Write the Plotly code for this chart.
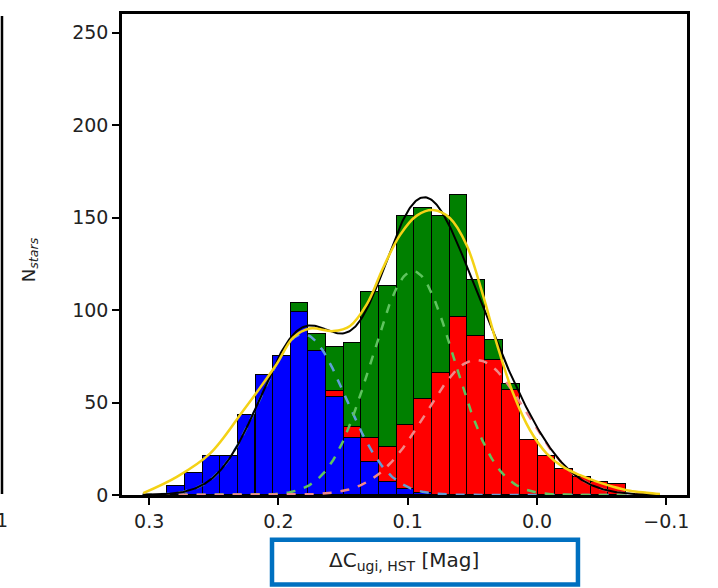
import numpy as np
import plotly.graph_objects as go

# ---------------- data ----------------
bin_centers = [0.2792, 0.2655, 0.2519, 0.2382, 0.2246, 0.2109, 0.1973, 0.1836,
               0.1700, 0.1564, 0.1427, 0.1291, 0.1154, 0.1018, 0.0881, 0.0745,
               0.0608, 0.0472, 0.0335, 0.0199, 0.0062, -0.0074, -0.0211,
               -0.0347, -0.0484, -0.0620]
bin_width = 0.01365

# stacked populations per bin (blue bottom, red middle, green top)
n_blue = [5, 12, 21, 21, 43, 65, 75, 99, 78, 53, 31, 18, 7, 3, 1,
          None, None, None, None, None, None, None, None, None, None, None]
n_red = [None, None, None, None, None, None, None, None, None, 3, 6, 13, 19, 35, 51,
         66, 96, 86, 73, 57, 30, 21, 14, 10, 7, 6]
n_green = [None, None, None, None, None, None, None, 5, 9, 24, 45, 79, 87, 113, 103,
           85, 66, 30, 11, 3, None, None, None, None, None, None]

# Gaussian components (amplitude, centre, sigma)
gauss_blue = (87, 0.181, 0.033)
gauss_green = (121, 0.096, 0.032)
gauss_red = (73, 0.047, 0.039)

# yellow smooth curve
yel_x = [0.3046, 0.2786, 0.2528, 0.2273, 0.2142, 0.2013, 0.1887, 0.1756, 0.1577,
         0.1446, 0.1317, 0.1191, 0.1060, 0.0930, 0.0804, 0.0673, 0.0544, 0.0418,
         0.0312, 0.0185, 0.0054, -0.0075, -0.0201, -0.0333, -0.0462, -0.0588,
         -0.0719, -0.0848, -0.0951]
yel_y = [1.0, 9.8, 22.5, 45.6, 58, 70.8, 85, 90, 88.6, 91.4, 103, 122.7, 140.5,
         151, 154, 149.6, 135, 108, 82, 55, 35, 22.4, 15.2, 10.7, 7.2, 4.5, 2.3,
         1.2, 0.5]

x_ticks = [0.3, 0.2, 0.1, 0.0, -0.1]
x_tick_text = ["0.3", "0.2", "0.1", "0.0", "\u22120.1"]
y_ticks = [0, 50, 100, 150, 200, 250]

# ---------------- figure ----------------
def gauss(x, p):
    a, m, s = p
    return a * np.exp(-(x - m) ** 2 / (2 * s ** 2))

xf = np.linspace(0.305, -0.095, 500)
gb, gg, gr = gauss(xf, gauss_blue), gauss(xf, gauss_green), gauss(xf, gauss_red)

fig = go.Figure()
edge = dict(color="black", width=1.3)
fig.add_trace(go.Bar(x=bin_centers, y=n_blue, width=bin_width,
                     marker=dict(color="#0000ff", line=edge)))
fig.add_trace(go.Bar(x=bin_centers, y=n_red, width=bin_width,
                     marker=dict(color="#ff0000", line=edge)))
fig.add_trace(go.Bar(x=bin_centers, y=n_green, width=bin_width,
                     marker=dict(color="#008000", line=edge)))

fig.add_trace(go.Scatter(x=xf, y=gb, mode="lines",
                         line=dict(color="#5f9fd6", width=2.5, dash="dash")))
fig.add_trace(go.Scatter(x=xf, y=gg, mode="lines",
                         line=dict(color="#5fc45f", width=2.5, dash="dash")))
fig.add_trace(go.Scatter(x=xf, y=gr, mode="lines",
                         line=dict(color="#f08888", width=2.5, dash="dash")))
fig.add_trace(go.Scatter(x=xf, y=gb + gg + gr, mode="lines",
                         line=dict(color="black", width=2)))
fig.add_trace(go.Scatter(x=yel_x, y=yel_y, mode="lines", line_shape="spline",
                         line=dict(color="#f4d215", width=2.5)))

axis_common = dict(showline=True, linecolor="black", linewidth=2.5, mirror=True,
                   ticks="outside", ticklen=7, tickwidth=2, tickcolor="black",
                   showgrid=False, zeroline=False,
                   tickfont=dict(family="DejaVu Sans", size=19, color="#222"))

fig.update_layout(
    width=718, height=588,
    margin=dict(l=122, r=31, t=11, b=93),
    paper_bgcolor="white", plot_bgcolor="white",
    barmode="stack", bargap=0, showlegend=False, hovermode=False,
    xaxis=dict(range=[0.321, -0.116], tickvals=x_ticks, ticktext=x_tick_text,
               **axis_common),
    yaxis=dict(range=[0, 260], tickvals=y_ticks, **axis_common),
)

fig.add_annotation(text="N<sub><i>stars</i></sub>", xref="paper", yref="paper",
                   x=-0.163, y=0.49, textangle=-90, showarrow=False,
                   xanchor="center", yanchor="middle",
                   font=dict(family="DejaVu Sans", size=18, color="#222"))
fig.add_annotation(text="\u0394C<sub>ugi, HST</sub> [Mag]", xref="paper", yref="paper",
                   x=0.499, y=-0.138, showarrow=False,
                   xanchor="center", yanchor="middle",
                   font=dict(family="DejaVu Sans", size=20, color="#222"))
# highlight box around x label
fig.add_shape(type="rect", xref="paper", yref="paper",
              x0=0.2655, x1=0.807, y0=-0.186, y1=-0.093,
              line=dict(color="#0070c0", width=4.5), fillcolor="rgba(0,0,0,0)")
# remnant of neighbouring panel at the left edge
fig.add_shape(type="line", xref="paper", yref="paper",
              x0=-0.2124, x1=-0.2124, y0=0.002, y1=0.996,
              line=dict(color="black", width=2.5))
fig.add_annotation(text="\u22120.1", xref="paper", yref="paper",
                   x=-0.199, y=-0.052, xanchor="right", yanchor="middle",
                   showarrow=False,
                   font=dict(family="DejaVu Sans", size=19, color="#222"))

fig.write_html("out.html", config={"displayModeBar": False},
               post_script="document.body.style.margin='0';document.body.style.padding='0';")
